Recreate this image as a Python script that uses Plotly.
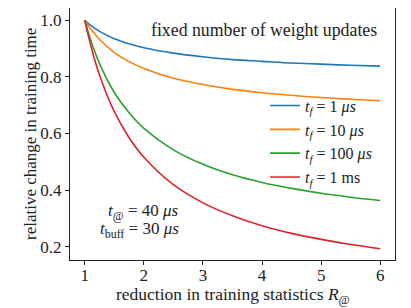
import plotly.graph_objects as go

R = [1.0, 1.1, 1.25, 1.5, 1.75, 2.0, 2.5, 3.0, 3.5, 4.0, 4.5, 5.0, 5.5, 6.0]
t_1us = [1.0, 0.982, 0.961, 0.935, 0.917, 0.903, 0.884, 0.871, 0.861, 0.855, 0.849, 0.845, 0.841, 0.838]
t_10us = [1.0, 0.969, 0.932, 0.886, 0.854, 0.830, 0.795, 0.773, 0.756, 0.744, 0.735, 0.727, 0.721, 0.716]
t_100us = [1.0, 0.931, 0.847, 0.745, 0.673, 0.618, 0.542, 0.491, 0.454, 0.427, 0.406, 0.389, 0.375, 0.363]
t_1ms = [1.0, 0.912, 0.806, 0.677, 0.585, 0.516, 0.419, 0.355, 0.309, 0.274, 0.247, 0.226, 0.208, 0.193]

series = [
    ("<i>t<sub>f</sub></i> = 1 <i>μs</i>", t_1us, "#1f77b4"),
    ("<i>t<sub>f</sub></i> = 10 <i>μs</i>", t_10us, "#ff7f0e"),
    ("<i>t<sub>f</sub></i> = 100 <i>μs</i>", t_100us, "#2ca02c"),
    ("<i>t<sub>f</sub></i> = 1 ms", t_1ms, "#d62728"),
]

FONT = "Liberation Serif"
FS = 17
TXT = "#222"
fig = go.Figure()
for name, ys, col in series:
    fig.add_trace(go.Scatter(x=R, y=ys, mode="lines", name=name,
                             line=dict(color=col, width=1.6, shape="spline", smoothing=1.0)))

# page body has an 8px margin, so the figure is sized to fit 411x308 window
fig.update_layout(
    width=403, height=300,
    margin=dict(l=62, r=16, t=0, b=48, autoexpand=False),
    plot_bgcolor="white", paper_bgcolor="white",
    font=dict(family=FONT, size=FS, color=TXT),
    showlegend=True,
    legend=dict(x=0.60, y=0.68, xanchor="left", yanchor="top",
                bgcolor="rgba(0,0,0,0)", borderwidth=0,
                font=dict(family=FONT, size=16, color=TXT), itemwidth=30,
                tracegroupgap=0),
)
axis_common = dict(showgrid=False, zeroline=False, showline=True, linecolor="#222",
                   linewidth=1, mirror=True, ticks="outside", ticklen=4,
                   tickcolor="#222", automargin=False,
                   tickfont=dict(family=FONT, size=FS, color=TXT))
fig.update_xaxes(range=[0.75, 6.25], tickvals=[1, 2, 3, 4, 5, 6],
                 ticklabelstandoff=-4, **axis_common)
fig.update_yaxes(range=[0.153, 1.0435], tickvals=[0.2, 0.4, 0.6, 0.8, 1.0],
                 tickformat=".1f", **axis_common)

fig.add_annotation(text="reduction in training statistics <i>R</i><sub>@</sub>",
                   xref="paper", yref="paper", x=0.5, y=-0.142, xanchor="center",
                   yanchor="middle", showarrow=False,
                   font=dict(family=FONT, size=17.5, color=TXT))
fig.add_annotation(text="relative change in training time",
                   xref="paper", yref="paper", x=-0.123, y=0.5, xanchor="center",
                   yanchor="middle", showarrow=False, textangle=-90,
                   font=dict(family=FONT, size=FS, color=TXT))
fig.add_annotation(text="fixed number of weight updates", xref="paper", yref="paper",
                   x=0.951, y=0.913, xanchor="right", yanchor="middle", showarrow=False,
                   font=dict(family=FONT, size=17.8, color=TXT))
fig.add_annotation(text="<i>t</i><sub>@</sub> = 40 <i>μs</i>", xref="paper", yref="paper",
                   x=0.343, y=0.19, xanchor="right", yanchor="middle", showarrow=False,
                   font=dict(family=FONT, size=FS, color=TXT))
fig.add_annotation(text="<i>t</i><sub>buff</sub> = 30 <i>μs</i>", xref="paper", yref="paper",
                   x=0.343, y=0.119, xanchor="right", yanchor="middle", showarrow=False,
                   font=dict(family=FONT, size=FS, color=TXT))

fig.write_html("out.html")
